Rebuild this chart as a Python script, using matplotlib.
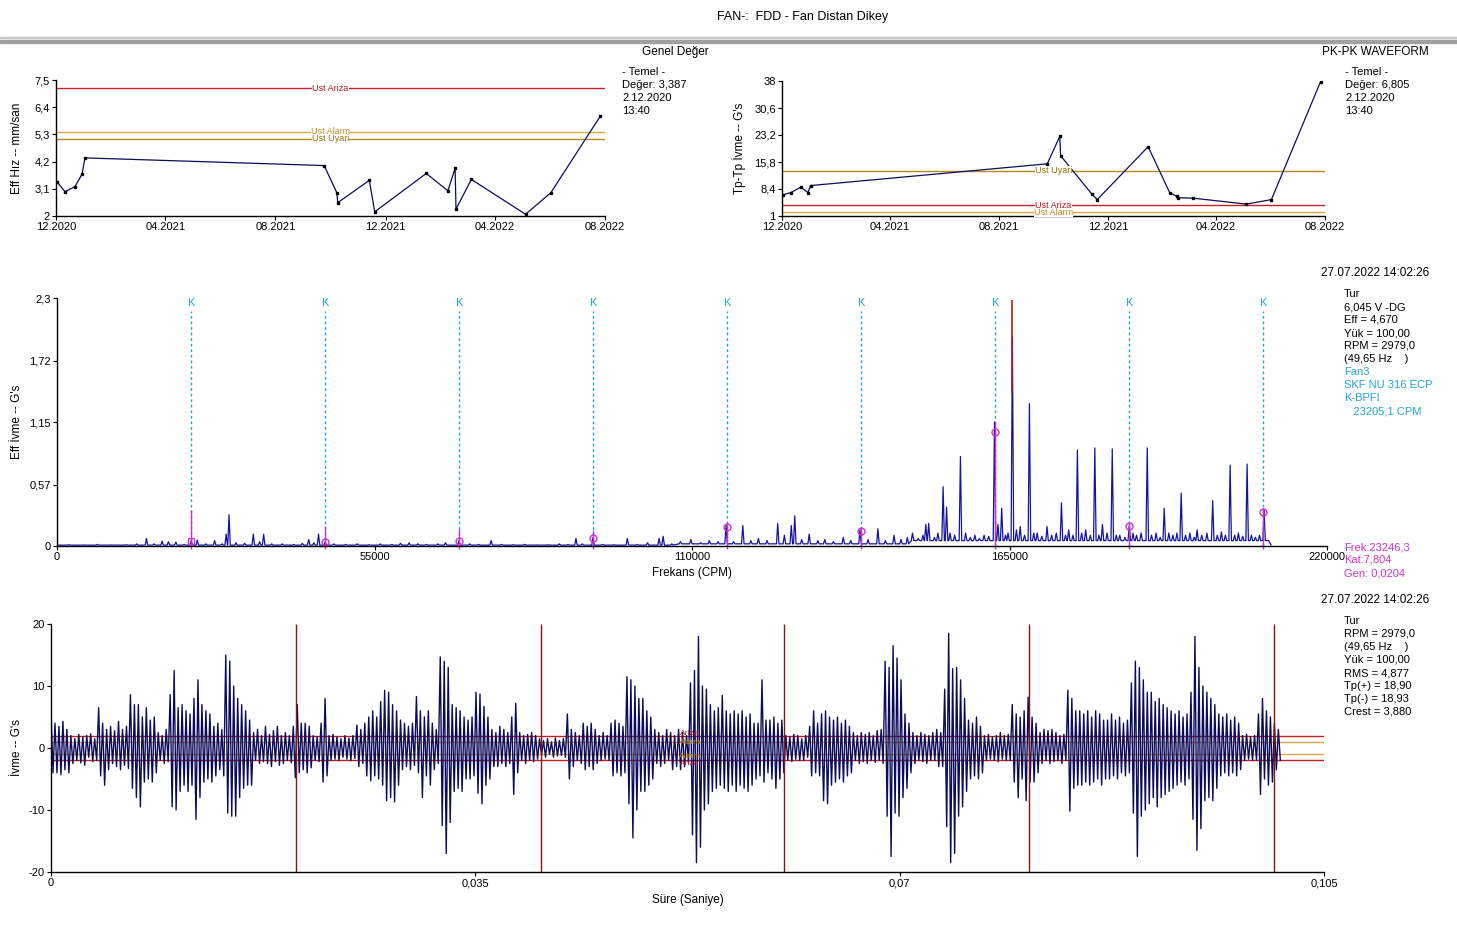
import matplotlib
matplotlib.use('Agg')
import matplotlib.pyplot as plt
import matplotlib.dates as mdates
from matplotlib.patches import Rectangle
import numpy as np
import pandas as pd

plt.rcParams['font.family'] = ['Liberation Sans', 'DejaVu Sans']

W, H = 1457, 934

# ---- trend data (both trend charts share the measurement dates) ----
trend_dates = ['2020-12-02', '2020-12-11', '2020-12-22', '2020-12-30', '2021-01-02',
               '2021-09-24', '2021-10-08', '2021-10-09', '2021-11-13', '2021-11-19',
               '2022-01-15', '2022-02-08', '2022-02-16', '2022-02-17', '2022-03-06',
               '2022-05-05', '2022-06-02', '2022-07-27']
overall_vel = [3.387, 2.98, 3.19, 3.70, 4.35, 4.04, 2.94, 2.54, 3.44, 2.17,
               3.72, 3.02, 3.93, 2.28, 3.48, 2.07, 2.94, 6.05]
pkpk_acc = [6.805, 7.44, 8.89, 7.44, 9.34, 15.3, 22.8, 17.5, 7.0, 5.5,
            20.0, 7.44, 6.4, 6.0, 5.9, 4.26, 5.5, 37.8]

vel_limits = {'Ust Ariza': 7.17, 'Ust Alarm': 5.40, 'Ust Uyari': 5.13}
acc_limits = {'Ust Uyari': 13.4, 'Ust Ariza': 4.0, 'Ust Alarm': 2.0}
limit_colors = {'Ust Ariza': ('#c8202c', '#b01818'),
                'Ust Alarm': ('#e0a848', '#c88a20'),
                'Ust Uyari': ('#b08c20', '#967010')}

date_ticks = ['2020-12-01', '2021-04-01', '2021-08-01', '2021-12-01', '2022-04-01', '2022-08-01']

# ---- spectrum peaks (CPM, G rms) ----
peaks_low = [(2000, 0.012), (4500, 0.01), (7000, 0.015), (9500, 0.01), (12000, 0.012),
             (13800, 0.02), (15500, 0.07), (16800, 0.02), (18200, 0.045), (19300, 0.04),
             (20600, 0.035), (22000, 0.015), (23250, 0.05), (24300, 0.055), (25800, 0.02),
             (27300, 0.05), (28600, 0.02), (29300, 0.11), (29800, 0.29), (31000, 0.03),
             (32500, 0.025), (34000, 0.11), (35100, 0.04), (35800, 0.11), (37200, 0.02),
             (39000, 0.02), (41000, 0.015), (42500, 0.025), (43600, 0.06), (44500, 0.03),
             (45300, 0.11), (46450, 0.04), (48000, 0.02), (50000, 0.015), (52000, 0.02),
             (54000, 0.012), (56000, 0.02), (58000, 0.015), (59500, 0.025), (61000, 0.03),
             (62500, 0.02), (64000, 0.015), (66000, 0.02), (67300, 0.03), (69650, 0.05),
             (71500, 0.02), (73000, 0.015), (75200, 0.05), (77000, 0.015), (79000, 0.012),
             (81000, 0.015), (83000, 0.01), (85000, 0.012), (87000, 0.02), (88500, 0.015),
             (89900, 0.07), (91000, 0.02), (92850, 0.08), (94500, 0.015), (96500, 0.012),
             (98800, 0.07), (100500, 0.015), (102300, 0.03), (104300, 0.07), (105000, 0.09),
             (106500, 0.02), (108000, 0.04), (109800, 0.06)]
peaks_mid = [(111500, 0.03), (113000, 0.05), (114500, 0.04), (115900, 0.19), (117200, 0.04),
             (118800, 0.19), (120200, 0.05), (121500, 0.07), (123000, 0.05), (124850, 0.21),
             (126000, 0.1), (127200, 0.19), (127800, 0.28), (129000, 0.06), (130300, 0.11),
             (131800, 0.05), (133000, 0.06), (134500, 0.04), (136200, 0.08), (137500, 0.05),
             (139100, 0.15), (140500, 0.06), (142200, 0.16), (143500, 0.05), (145000, 0.1),
             (146200, 0.06), (147300, 0.08), (148200, 0.12), (149200, 0.07)]
peaks_high = [(150000, 0.1), (150500, 0.2), (151000, 0.21), (152000, 0.08), (152600, 0.12),
              (153500, 0.55), (154100, 0.36), (154700, 0.12), (155500, 0.1), (156500, 0.83),
              (157400, 0.12), (158200, 0.08), (159000, 0.1), (159800, 0.07), (160600, 0.1),
              (161400, 0.09), (162400, 1.15), (163000, 0.2), (163650, 0.35), (164300, 0.1),
              (164750, 0.12), (165500, 1.94), (166200, 0.15), (166850, 0.18), (167600, 0.1),
              (168450, 1.32), (169200, 0.12), (169800, 0.12), (170600, 0.09), (171500, 0.18),
              (172300, 0.1), (173100, 0.12), (174000, 0.40), (174700, 0.1), (175250, 0.15),
              (176000, 0.1), (176760, 0.89), (177500, 0.12), (178200, 0.15), (179000, 0.1),
              (179780, 0.91), (180500, 0.1), (181100, 0.2), (181900, 0.12), (182800, 0.90),
              (183500, 0.1), (184100, 0.1), (185000, 0.08), (185750, 0.19), (186400, 0.12),
              (187000, 0.1), (187800, 0.12), (188860, 0.91), (189600, 0.1), (190400, 0.12),
              (191100, 0.08), (191800, 0.35), (192600, 0.12), (193300, 0.1), (194000, 0.12),
              (194740, 0.49), (195500, 0.1), (196250, 0.12), (197000, 0.08), (197500, 0.15),
              (198300, 0.1), (199200, 0.12), (200200, 0.42), (201000, 0.1), (201700, 0.13),
              (202400, 0.1), (203220, 0.75), (204000, 0.1), (204650, 0.12), (205400, 0.09),
              (206160, 0.76), (206900, 0.1), (207600, 0.08), (208300, 0.1), (209100, 0.33),
              (209700, 0.05)]
floor_edges = [0, 108000, 148000, 211000]
floor_levels = [0.008, 0.02, 0.05]

bpfi_cpm = 23205.1
k_orders = [1, 2, 3, 4, 5, 6, 7, 8, 9]
k_amp = [0.046, 0.037, 0.046, 0.074, 0.176, 0.14, 1.06, 0.186, 0.315]
k_mark_top = [0.33, 0.19, 0.16, 0.15, 0.22, 0.18, 1.15, 0.22, 0.35]

# ---- time waveform: alternating positive / negative peaks (G) ----
wave_g = [6, -4, 4, -4, 3.5, -4.3, 4.3, -3.5, 3, -4,
          2, -2.5, 1.5, -2, 2.2, -2.4, 1.8, -2.8, 2, -1.5, 2.3, -2.2, 1.5, -2,
          6.5, -4.5, 4, -6,
          3, -3.5, 3.5, -2.5, 2.8, -3, 4.3, -3.5, 3, -2.8, 3.5, -3.3,
          8.6, -6.5, 7, -8, 7, -9.5,
          5, -5.5, 6.5, -5, 4.5, -5.5, 5, -4,
          2.5, -2, 2, -2.5, 3, -2.2,
          8.6, -9.5, 12.5, -10,
          6.5, -7, 7, -6, 6, -7, 5.5, -6,
          8, -11.5, 11, -8,
          7, -5.5, 6, -5, 5.5, -5.5,
          3.5, -4.5, 4, -3.5, 3, -4.5,
          15, -10.5, 14, -11, 10, -11,
          8, -8, 7, -6.5, 6, -6, 4.5, -6,
          2.5, -2, 3, -2.5, 2, -2.2, 3.5, -2.5, 2.2, -3, 2.8, -2.2, 3.5, -2.8, 2, -2.5, 2.5, -2, 2, -2.4,
          3.5, -4.8, 7, -4, 4, -3.5,
          4, -4, 3.5, -3.2,
          2, -2, 1.8, -2.2,
          4, -5.5, 8, -4.5,
          2, -2, 2.2, -1.8, 1.8, -2, 1.5, -1.5, 2, -1.8, 1.6, -2, 2, -1.7,
          3.7, -3, 3, -2.5,
          4, -4.5, 5, -5.3, 6, -4.5, 5, -5,
          7.5, -6, 9.3, -8.5, 9, -8, 7, -8.7, 6, -6,
          4.5, -3.5, 4, -3, 3.5, -3.5, 4, -2.8,
          8.3, -4, 6, -8, 5, -4.5, 6, -6, 4, -3.5,
          3, -2.5,
          14.7, -12.5, 14, -17, 13, -12,
          7, -7, 6.5, -6.5, 6, -7,
          5, -5, 4.5, -5, 5, -4.5,
          9, -7.3, 8.7, -9, 6.7, -6, 5, -5,
          3, -3, 2.5, -3, 3.5, -2.5, 3, -3, 2.5, -2.5,
          5, -7.5, 7.2, -4,
          2.5, -2, 2, -2.5, 2.2, -2, 2.5, -2.2, 2, -1.8,
          1.5, -1.2, 1.2, -1.5, 1.5, -1, 1, -1.5, 1.6, -1.3, 1.2, -1.2, 1.5, -1.5,
          5.5, -5, 3, -3,
          2.5, -2, 2, -2.5,
          4, -3.5, 3.5, -3, 4, -3.5, 3, -2.5,
          2, -2, 2.5, -1.8, 2, -2,
          4, -4.5, 4.5, -4, 4, -4.5, 3.5, -4,
          11.5, -9, 11, -14.5, 10, -10, 8, -7,
          8, -7, 6, -6, 5, -5,
          3, -2.5, 2.5, -3, 2, -2.5, 3, -2,
          2.5, -3.5, 2, -3, 3, -3.5, 2.5, -3, 2, -2.5,
          10.5, -14, 12.5, -18.5, 18, -16, 10, -10,
          9.5, -9, 7, -7, 6, -6.5, 6.5, -6,
          8.5, -6.5, 6, -7, 5.5, -6,
          6, -7, 5.5, -6, 6, -6.5, 5, -7, 5.5, -6, 4, -5,
          4, -4.5, 11, -5.5, 4.5, -4,
          4.5, -5, 5, -6.5, 4, -5, 4.5, -4,
          2, -2, 1.8, -2.2, 2.2, -1.8, 2, -2, 1.5, -2, 2, -1.5,
          3.5, -4.5, 6, -4, 4, -4.5,
          5.5, -8.5, 6, -9, 5, -6,
          4.5, -5.5, 5, -5, 4, -5.5, 4.5, -4.5, 3.5, -4,
          2.5, -2, 2, -2.5, 2.5, -2.2, 2.2, -2.5, 2.5, -2, 2, -2.3, 2.8, -2, 3, -2.5,
          14, -11, 13, -17.5, 16.5, -10.5, 14.5, -11, 11, -8,
          5.5, -6.5, 4, -4,
          2.5, -2.5, 2, -2, 2.5, -2.2, 2.2, -2.5, 2, -2, 2.5, -2,
          3, -3, 2.5, -3,
          9.5, -12.7, 18.5, -18.5, 12.8, -17, 13, -11, 11, -9.5, 8, -7,
          4.5, -5, 4, -4.5, 5, -5, 3.5, -4,
          2, -2, 2.2, -1.8, 1.8, -2, 2, -2.2, 2.5, -1.8, 2, -2, 2.2, -2,
          7, -5.5, 5.5, -8, 5, -5,
          6, -8.5, 8.2, -5.5, 5, -5.5, 4, -4,
          2.5, -2.5, 3, -2, 2.8, -2.5, 3, -2.2, 2.5, -2, 2, -2.5, 2.2, -2,
          9.3, -10.2, 8, -6.5, 6, -6,
          6, -6, 5.5, -5.5, 6, -6, 5, -5.5, 6, -5, 5.5, -6, 4.5, -5,
          4.5, -5, 5.5, -4.5, 4.5, -5, 5, -4, 4, -4.5, 4.5, -4,
          10.5, -10.5, 14, -17.5, 13, -11, 11, -10, 9, -9,
          9, -8, 7.5, -9.5, 8, -8, 7, -7.5, 6.5, -7,
          6, -6.5, 5.5, -6, 6, -5.5, 5, -6, 5.5, -5,
          9, -11.5, 18, -16.5, 13, -13,
          10, -8.5, 9, -8, 8, -8.5, 7, -6.5,
          5.5, -4.5, 5, -4, 5.5, -4.5, 4.5, -4, 5, -4.5, 4, -3.5,
          2, -2, 2.2, -1.8, 1.8, -2, 2, -2,
          5.5, -7.5, 8, -5, 6, -6, 5, -5.5,
          4, -3.5, 3, -2]
wave_end_s = 0.1014
rev_marks_s = [0.0202, 0.0404, 0.0605, 0.0807, 0.1009]

CYAN = '#1fa6d6'
MAGENTA = '#cc33cc'
NAVY = '#0c0c5c'


def px_axes(x0, y0, x1, y1):
    return fig.add_axes([x0 / W, 1 - y1 / H, (x1 - x0) / W, (y1 - y0) / H])


def ftext(x, y, s, **kw):
    kw.setdefault('fontsize', 8)
    kw.setdefault('va', 'center')
    fig.text(x / W, 1 - y / H, s, **kw)


def style(ax):
    for side in ['top', 'right']:
        ax.spines[side].set_visible(False)
    for side in ['left', 'bottom']:
        ax.spines[side].set_linewidth(1.0)
    ax.tick_params(direction='out', length=3, width=0.8, labelsize=8, pad=1.5)


fig = plt.figure(figsize=(W / 100, H / 100), dpi=100)

# header
ftext(803, 17, 'FAN-:  FDD - Fan Distan Dikey', ha='center', fontsize=9)
fig.add_artist(Rectangle((0, 1 - 38 / H), 1, 1 / H, transform=fig.transFigure, color='#c8c8c8'))
fig.add_artist(Rectangle((0, 1 - 43 / H), 1, 3 / H, transform=fig.transFigure, color='#a0a0a0'))


def trend(ax, values, limits, ymin, ymax, yticks, ylabels):
    dates = pd.to_datetime(trend_dates)
    for name, val in limits.items():
        lc, tc = limit_colors[name]
        ax.axhline(val, color=lc, lw=1)
        ax.text(0.5, val, name, transform=ax.get_yaxis_transform(), ha='center', va='center',
                fontsize=6.5, color=tc, bbox=dict(facecolor='white', edgecolor='none', pad=0.1))
    ax.plot(dates, values, color=NAVY, lw=0.9, marker='s', ms=1.8, mfc='black', mec='black')
    ax.set_xlim(pd.Timestamp('2020-12-01'), pd.Timestamp('2022-08-01'))
    ax.set_ylim(ymin, ymax)
    ax.set_xticks(pd.to_datetime(date_ticks))
    ax.xaxis.set_major_formatter(mdates.DateFormatter('%m.%Y'))
    ax.set_yticks(yticks)
    ax.set_yticklabels(ylabels)
    style(ax)


# top-left trend
ax1 = px_axes(56, 80, 605, 216)
trend(ax1, overall_vel, vel_limits, 2, 7.5, [2, 3.1, 4.2, 5.3, 6.4, 7.5],
      ['2', '3,1', '4,2', '5,3', '6,4', '7,5'])
ftext(709, 52, 'Genel Değer', ha='right', fontsize=8.5)
ftext(17, 148, 'Eff Hız -- mm/san', ha='center', rotation=90, fontsize=8.5)
for i, s in enumerate(['- Temel -', 'Değer: 3,387', '2.12.2020', '13:40']):
    ftext(622, 72 + 13 * i, s)

# top-right trend
ax2 = px_axes(782, 81, 1325, 216)
trend(ax2, pkpk_acc, acc_limits, 1, 38, [1, 8.4, 15.8, 23.2, 30.6, 38],
      ['1', '8,4', '15,8', '23,2', '30,6', '38'])
ftext(1429, 52, 'PK-PK WAVEFORM', ha='right', fontsize=8.5)
ftext(739, 148, "Tp-Tp İvme -- G's", ha='center', rotation=90, fontsize=8.5)
for i, s in enumerate(['- Temel -', 'Değer: 6,805', '2.12.2020', '13:40']):
    ftext(1345, 72 + 13 * i, s)

# spectrum
ax3 = px_axes(57, 298, 1327, 546)
peaks = sorted(peaks_low + peaks_mid + peaks_high)
xs, ys = [0], [floor_levels[0]]
for f, a in peaks:
    base = floor_levels[np.searchsorted(floor_edges, f, side='right') - 1]
    xs += [f - 220, f, f + 220]
    ys += [base, a, base]
xs.append(210300)
ys.append(0.01)
k_cpm = [k * bpfi_cpm for k in k_orders]
ax3.vlines(k_cpm, 0, 2.18, colors=CYAN, linestyles=(0, (2, 2)), lw=1)
for f in k_cpm:
    ax3.text(f, 2.25, 'K', color=CYAN, ha='center', va='center', fontsize=8)
ax3.plot(xs, ys, color='#1414a0', lw=0.9)
ax3.vlines([165500], 1.42, 2.28, colors='#c01818', lw=1.2)
ax3.vlines(k_cpm, -0.03, k_mark_top, colors=MAGENTA, lw=1, clip_on=False)
ax3.plot(k_cpm[:1], k_amp[:1], 's', mfc='none', mec=MAGENTA, ms=5, mew=1)
ax3.plot(k_cpm[1:], k_amp[1:], 'o', mfc='none', mec=MAGENTA, ms=5, mew=1)
ax3.set_xlim(0, 220000)
ax3.set_ylim(0, 2.3)
ax3.set_xticks([0, 55000, 110000, 165000, 220000])
ax3.set_xticklabels(['0', '55000', '110000', '165000', '220000'])
ax3.set_yticks([0, 0.57, 1.15, 1.72, 2.3])
ax3.set_yticklabels(['0', '0,57', '1,15', '1,72', '2,3'])
style(ax3)
ftext(692, 573, 'Frekans (CPM)', ha='center', fontsize=8.5)
ftext(17, 422, "Eff İvme -- G's", ha='center', rotation=90, fontsize=8.5)
ftext(1429, 273, '27.07.2022 14:02:26', ha='right', fontsize=8.5)
spec_info = [('Tur', 'black'), ('6,045 V -DG', 'black'), ('Eff = 4,670', 'black'),
             ('Yük = 100,00', 'black'), ('RPM = 2979,0', 'black'), ('(49,65 Hz    )', 'black'),
             ('Fan3', CYAN), ('SKF NU 316 ECP', CYAN), ('K-BPFI', CYAN), ('   23205,1 CPM', CYAN)]
for i, (s, c) in enumerate(spec_info):
    ftext(1344, 294 + 13 * i, s, color=c)
for i, s in enumerate(['Frek:23246,3', 'Kat:7,804', 'Gen: 0,0204']):
    ftext(1344, 547 + 13 * i, s, color=MAGENTA)

# waveform
ax4 = px_axes(51, 624, 1324, 872)
t = np.linspace(0, wave_end_s, len(wave_g))
for v, c in [(2, '#c0202a'), (-2, '#c0202a'), (1, '#d8a850'), (-1, '#d8a850')]:
    ax4.axhline(v, color=c, lw=1)
ax4.plot(t, wave_g, color=NAVY, lw=1.0)
ax4.vlines(rev_marks_s, -20, 20, colors='#8a1414', lw=1)
for v, s, c in [(2.3, 'Ariza', '#c0202a'), (0.9, 'Alarm', '#c88a20'),
                (-1.3, 'Alarm', '#c88a20'), (-2.5, 'Ariza', '#c0202a')]:
    ax4.text(0.0527, v, s, color=c, fontsize=6, ha='center', va='center')
ax4.set_xlim(0, 0.105)
ax4.set_ylim(-20, 20)
ax4.set_xticks([0, 0.035, 0.07, 0.105])
ax4.set_xticklabels(['0', '0,035', '0,07', '0,105'])
ax4.set_yticks([-20, -10, 0, 10, 20])
ax4.set_yticklabels(['-20', '-10', '0', '10', '20'])
style(ax4)
ftext(688, 900, 'Süre (Saniye)', ha='center', fontsize=8.5)
ftext(17, 748, "İvme -- G's", ha='center', rotation=90, fontsize=8.5)
ftext(1429, 600, '27.07.2022 14:02:26', ha='right', fontsize=8.5)
wave_info = ['Tur', 'RPM = 2979,0', '(49,65 Hz    )', 'Yük = 100,00', 'RMS = 4,877',
             'Tp(+) = 18,90', 'Tp(-) = 18,93', 'Crest = 3,880']
for i, s in enumerate(wave_info):
    ftext(1344, 621 + 13 * i, s)

fig.savefig('out.png', dpi=100)
